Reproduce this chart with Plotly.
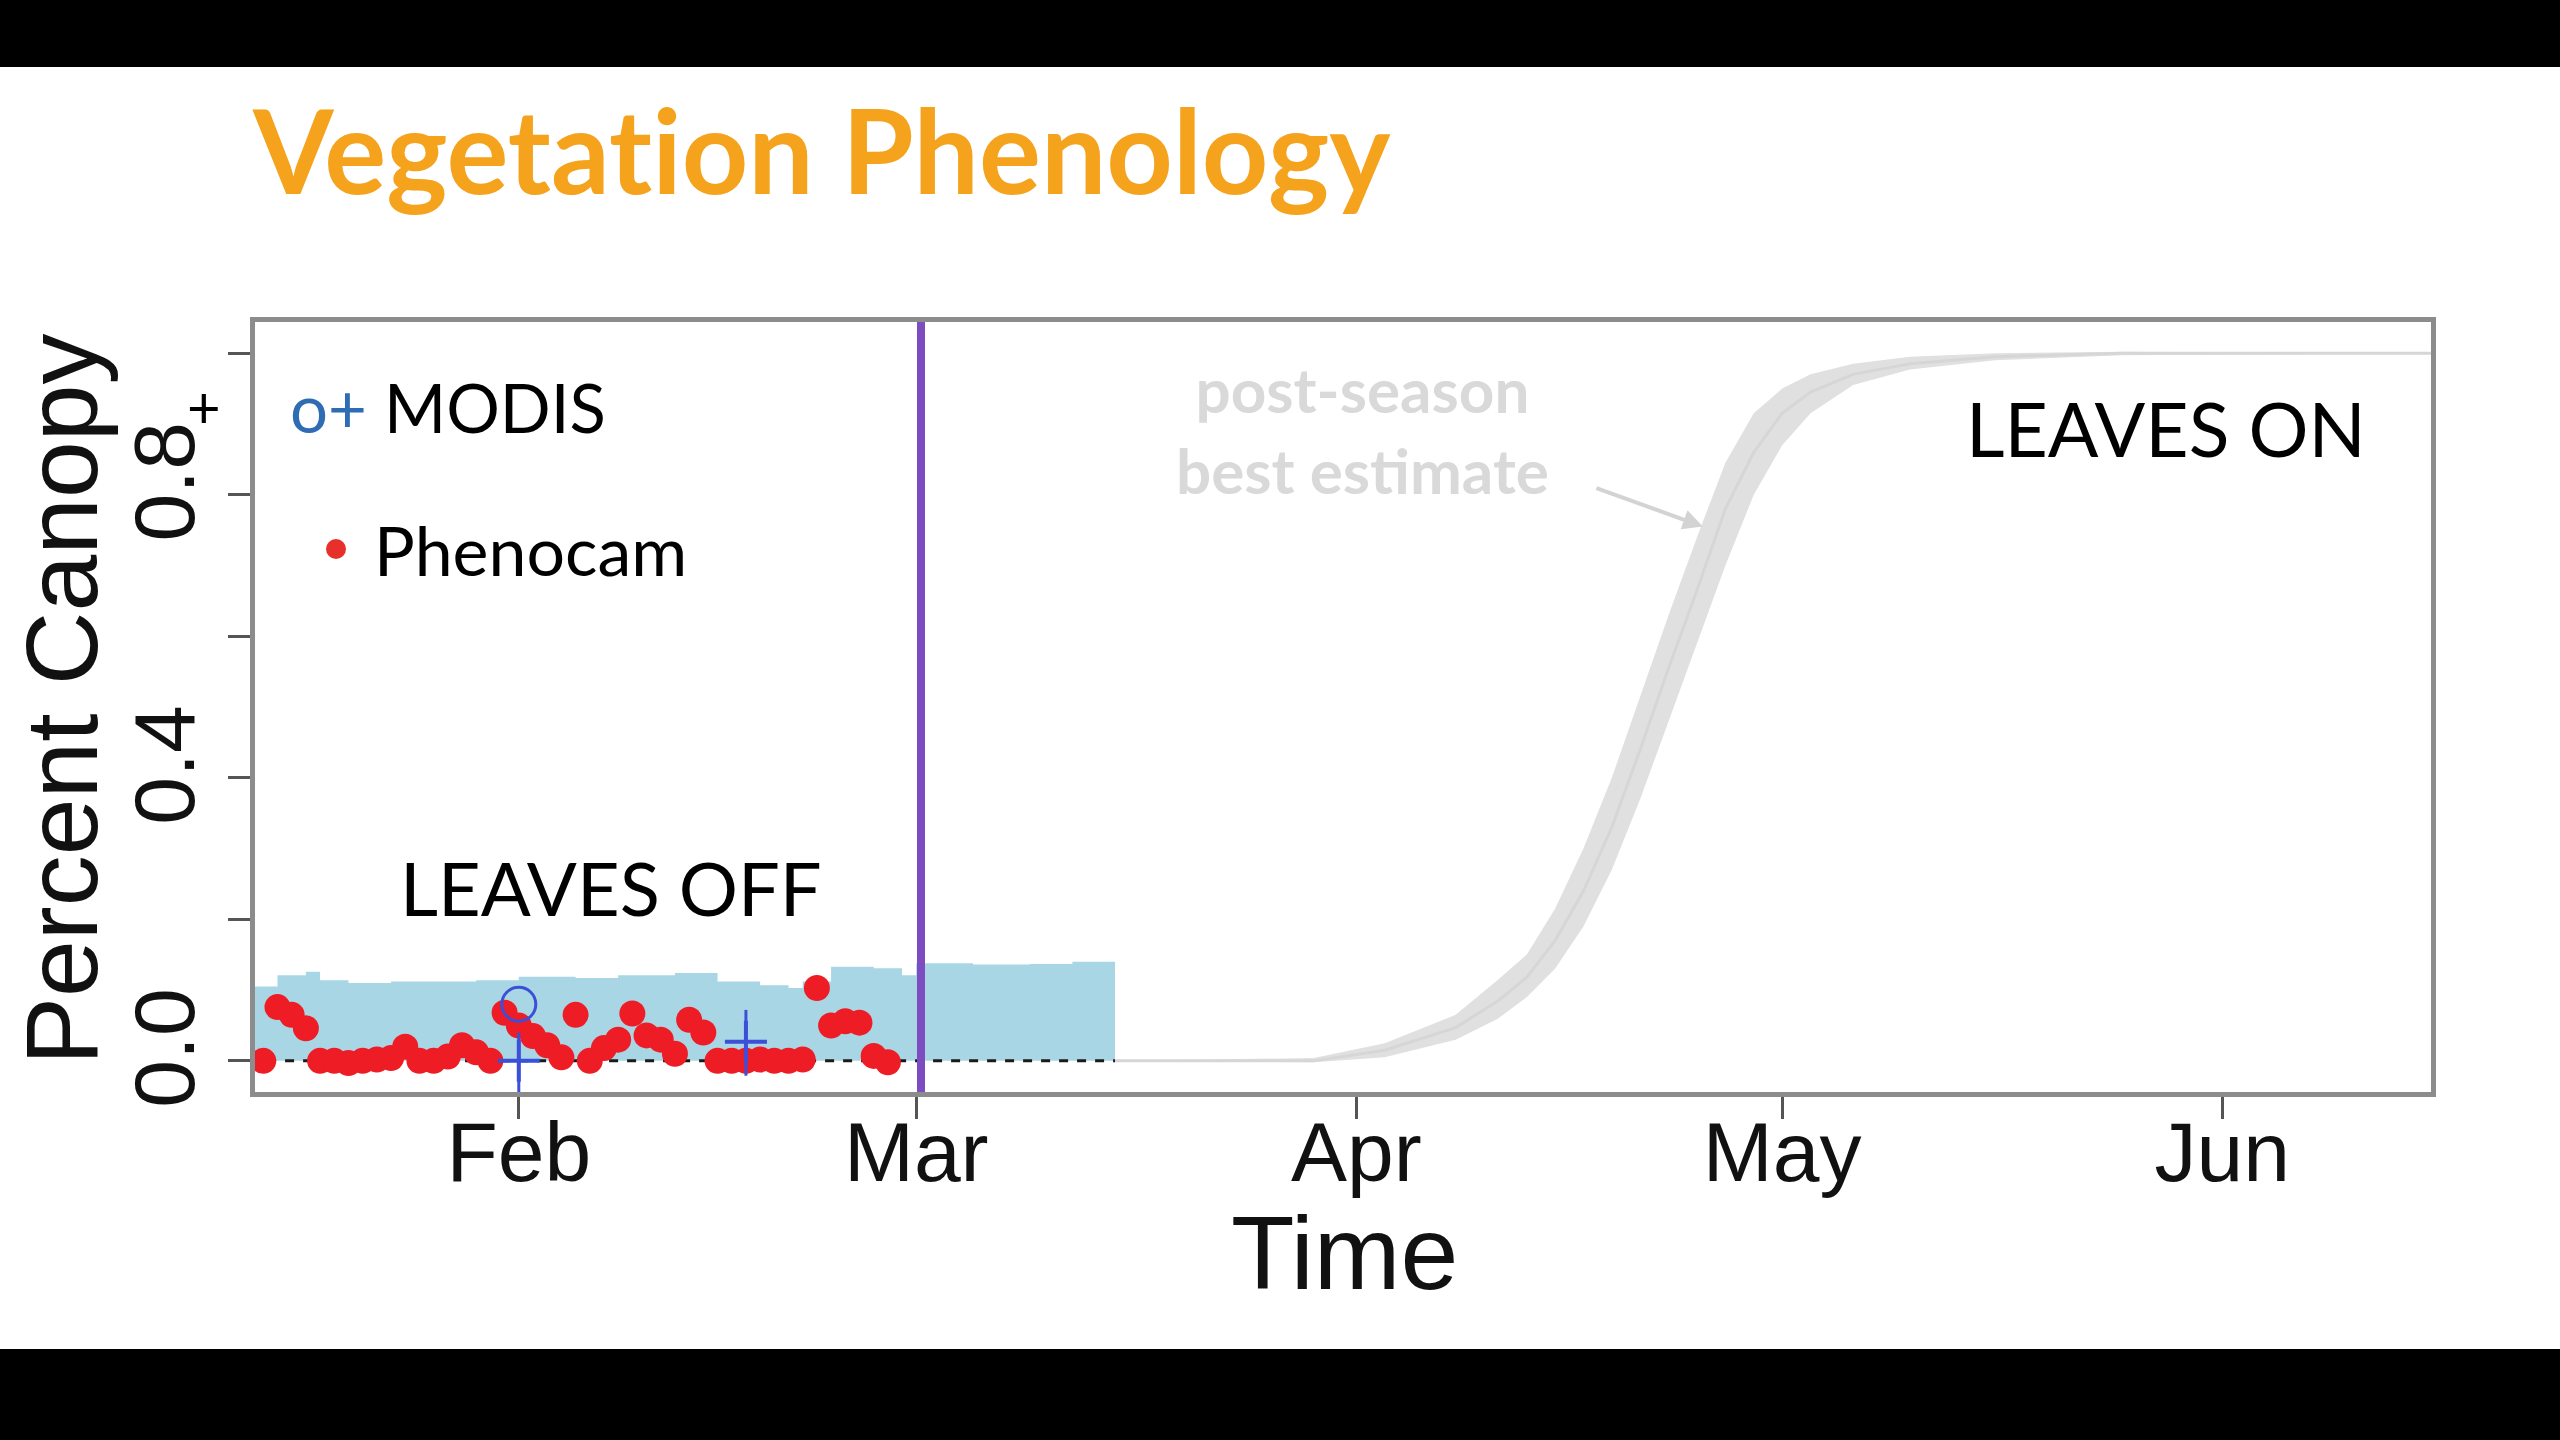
import plotly.graph_objects as go

# --- data (year is arbitrary, non-leap) ---
pheno_dates = [
    "2015-01-14", "2015-01-15", "2015-01-16", "2015-01-17", "2015-01-18", "2015-01-19",
    "2015-01-20", "2015-01-21", "2015-01-22", "2015-01-23", "2015-01-24", "2015-01-25",
    "2015-01-26", "2015-01-27", "2015-01-28", "2015-01-29", "2015-01-30", "2015-01-31",
    "2015-02-01", "2015-02-02", "2015-02-03", "2015-02-04", "2015-02-05", "2015-02-06",
    "2015-02-07", "2015-02-08", "2015-02-09", "2015-02-10", "2015-02-11", "2015-02-12",
    "2015-02-13", "2015-02-14", "2015-02-15", "2015-02-16", "2015-02-17", "2015-02-18",
    "2015-02-19", "2015-02-20", "2015-02-21", "2015-02-22", "2015-02-23", "2015-02-24",
    "2015-02-25", "2015-02-26", "2015-02-27",
]
pheno_vals = [
    0.0, 0.076, 0.065, 0.046, 0.0, 0.0,
    -0.003, 0.0, 0.002, 0.004, 0.02, 0.0,
    0.0, 0.006, 0.022, 0.012, 0.0, 0.068,
    0.05, 0.035, 0.022, 0.005, 0.065, 0.0,
    0.018, 0.03, 0.067, 0.036, 0.03, 0.01,
    0.058, 0.04, 0.0, 0.0, 0.0, 0.002,
    0.0, 0.0, 0.002, 0.103, 0.05, 0.056,
    0.054, 0.007, -0.002,
]

# forecast interval (light blue)
fc_dates = [
    "2015-01-13", "2015-01-15", "2015-01-17", "2015-01-18", "2015-01-20", "2015-01-23",
    "2015-01-26", "2015-01-29", "2015-02-01", "2015-02-05", "2015-02-08", "2015-02-12",
    "2015-02-15", "2015-02-18", "2015-02-20", "2015-02-21", "2015-02-23", "2015-02-26",
    "2015-02-28", "2015-03-01", "2015-03-05", "2015-03-09", "2015-03-12", "2015-03-15",
]
fc_hi = [
    0.105, 0.121, 0.126, 0.114, 0.110, 0.112,
    0.112, 0.114, 0.119, 0.117, 0.121, 0.124,
    0.112, 0.107, 0.103, 0.112, 0.133, 0.131,
    0.121, 0.138, 0.136, 0.137, 0.140, 0.142,
]
fc_lo = [0.0] * len(fc_dates)
fc_mid = [0.0] * len(fc_dates)

# MODIS
modis_dates = ["2015-02-01", "2015-02-17"]
modis_vals = [0.0, 0.027]
modis_err_up = [0.04, 0.045]
modis_err_dn = [0.045, 0.048]
modis_circle_date = ["2015-02-01"]
modis_circle_val = [0.08]

# post-season best estimate (grey)
est_dates = [
    "2015-03-15", "2015-03-29", "2015-04-03", "2015-04-08", "2015-04-11", "2015-04-13",
    "2015-04-15", "2015-04-17", "2015-04-19", "2015-04-21", "2015-04-23", "2015-04-25",
    "2015-04-27", "2015-04-29", "2015-05-01", "2015-05-03", "2015-05-06", "2015-05-10",
    "2015-05-16", "2015-05-25", "2015-06-16",
]
est_mid = [
    0.0, 0.0, 0.015, 0.047, 0.085, 0.118,
    0.17, 0.24, 0.33, 0.44, 0.555, 0.665,
    0.78, 0.86, 0.915, 0.945, 0.97, 0.985,
    0.995, 1.0, 1.0,
]
est_lo = [
    0.0, -0.002, 0.005, 0.03, 0.06, 0.09,
    0.13, 0.19, 0.27, 0.37, 0.48, 0.59,
    0.70, 0.80, 0.87, 0.915, 0.955, 0.977,
    0.99, 0.997, 1.0,
]
est_hi = [
    0.0, 0.004, 0.025, 0.065, 0.115, 0.15,
    0.215, 0.30, 0.40, 0.515, 0.63, 0.74,
    0.845, 0.915, 0.95, 0.97, 0.985, 0.995,
    1.0, 1.002, 1.0,
]

forecast_date = "2015-03-01 08:00"

month_ticks = ["2015-02-01", "2015-03-01", "2015-04-01", "2015-05-01", "2015-06-01"]
month_labels = ["Feb", "Mar", "Apr", "May", "Jun"]
y_ticks = [0.0, 0.2, 0.4, 0.6, 0.8, 1.0]
y_labels = ["0.0", "", "0.4", "", "0.8", ""]

# --- page geometry (pixels) ---
W, H = 2560, 1440
L, R, T, B = 255, 2431, 322, 1092


def px(x):
    return (x - L) / (R - L)


def py(y):
    return (B - y) / (B - T)


fig = go.Figure()

fig.add_trace(go.Scatter(x=fc_dates, y=fc_lo, mode="lines", line=dict(width=0, shape="hv"),
                         showlegend=False, hoverinfo="skip"))
fig.add_trace(go.Scatter(x=fc_dates, y=fc_hi, mode="lines", line=dict(width=0, shape="hv"),
                         fill="tonexty", fillcolor="#a9d6e5", showlegend=False))
fig.add_trace(go.Scatter(x=fc_dates, y=fc_mid, mode="lines",
                         line=dict(color="#1a1a1a", width=3, dash="dash"), showlegend=False))

fig.add_trace(go.Scatter(x=est_dates, y=est_lo, mode="lines", line=dict(width=0),
                         showlegend=False, hoverinfo="skip"))
fig.add_trace(go.Scatter(x=est_dates, y=est_hi, mode="lines", line=dict(width=0),
                         fill="tonexty", fillcolor="#e0e0e0", showlegend=False))
fig.add_trace(go.Scatter(x=est_dates, y=est_mid, mode="lines",
                         line=dict(color="#d6d6d6", width=3), showlegend=False))

fig.add_trace(go.Scatter(x=pheno_dates, y=pheno_vals, mode="markers",
                         marker=dict(color="#ee1c24", size=26), name="Phenocam", showlegend=False))

fig.add_trace(go.Scatter(
    x=modis_dates, y=modis_vals, mode="markers",
    marker=dict(symbol="cross-thin", size=30, color="#3b4fd8", line=dict(color="#3b4fd8", width=4)),
    error_y=dict(type="data", symmetric=False, array=modis_err_up, arrayminus=modis_err_dn,
                 color="#3b4fd8", thickness=3, width=0),
    name="MODIS", showlegend=False))
fig.add_trace(go.Scatter(
    x=modis_circle_date, y=modis_circle_val, mode="markers",
    marker=dict(symbol="circle-open", size=34, color="#3b4fd8", line=dict(color="#3b4fd8", width=3)),
    showlegend=False))

shapes = [
    # black bars top and bottom of the slide
    dict(type="rect", xref="paper", yref="paper", x0=px(0), x1=px(W), y0=py(0), y1=py(67),
         fillcolor="black", line_width=0, layer="below"),
    dict(type="rect", xref="paper", yref="paper", x0=px(0), x1=px(W), y0=py(1349), y1=py(H),
         fillcolor="black", line_width=0, layer="below"),
    # forecast start line
    dict(type="line", xref="x", yref="paper", x0=forecast_date, x1=forecast_date, y0=0, y1=1,
         line=dict(color="#7d4cc0", width=8)),
    # legend dot
    dict(type="circle", xref="paper", yref="paper", x0=px(326), x1=px(346), y0=py(539), y1=py(559),
         fillcolor="#e8302a", line_width=0),
]

annotations = [
    dict(text="<b>Vegetat\u200cion Phenology</b>", xref="paper", yref="paper", x=px(250), y=py(150),
         xanchor="left", yanchor="middle", showarrow=False,
         font=dict(family="Lato", size=116, color="#f5a21c")),
    dict(text="<span style='color:#2e6db4'>o+</span> MODIS", xref="paper", yref="paper",
         x=px(288), y=py(407), xanchor="left", yanchor="middle", showarrow=False,
         font=dict(family="Lato", size=67, color="black")),
    dict(text="+", xref="paper", yref="paper", x=px(204), y=py(405), xanchor="center",
         yanchor="middle", showarrow=False, font=dict(family="Lato", size=58, color="black")),
    dict(text="Phenocam", xref="paper", yref="paper", x=px(372), y=py(549), xanchor="left",
         yanchor="middle", showarrow=False, font=dict(family="Lato", size=68, color="black")),
    dict(text="LEAVES OFF", xref="paper", yref="paper", x=px(398), y=py(887), xanchor="left",
         yanchor="middle", showarrow=False, font=dict(family="Lato", size=74, color="black")),
    dict(text="LEAVES ON", xref="paper", yref="paper", x=px(1964), y=py(428), xanchor="left",
         yanchor="middle", showarrow=False, font=dict(family="Lato", size=75, color="black")),
    dict(text="<b>post-season<br>best estimate</b>", xref="paper", yref="paper", x=px(1362),
         y=py(429), xanchor="center", yanchor="middle", showarrow=False,
         font=dict(family="Lato", size=62, color="#d9d9d9")),
    dict(text="", x="2015-04-25 10:00", y=0.755, ax=-108, ay=-39, showarrow=True,
         arrowhead=2, arrowsize=1, arrowwidth=4, arrowcolor="#d3d3d3"),
    dict(text="Percent Canopy", xref="paper", yref="paper", x=px(62), y=py(700),
         textangle=-90, xanchor="center", yanchor="middle", showarrow=False,
         font=dict(family="Liberation Sans", size=102, color="#111111")),
    dict(text="Time", xref="paper", yref="paper", x=px(1344), y=py(1253),
         xanchor="center", yanchor="middle", showarrow=False,
         font=dict(family="Liberation Sans", size=104, color="#111111")),
]

fig.update_layout(
    width=W, height=H,
    margin=dict(l=L, r=W - R, t=T, b=H - B, autoexpand=False),
    paper_bgcolor="white", plot_bgcolor="white",
    showlegend=False,
    shapes=shapes, annotations=annotations,
)
fig.update_xaxes(
    type="date", range=["2015-01-13 10:00", "2015-06-15 17:00"],
    tickvals=month_ticks, ticktext=month_labels,
    showgrid=False, zeroline=False,
    showline=True, mirror=True, linecolor="#8c8c8c", linewidth=5,
    ticks="outside", ticklen=22, tickwidth=3, tickcolor="#555555",
    ticklabelstandoff=-39,
    tickfont=dict(family="Liberation Sans", size=84, color="#111111"),
)
fig.update_yaxes(
    range=[-0.044, 1.044],
    tickvals=y_ticks, ticktext=y_labels, tickangle=-90,
    showgrid=False, zeroline=False,
    showline=True, mirror=True, linecolor="#8c8c8c", linewidth=5,
    ticks="outside", ticklen=22, tickwidth=3, tickcolor="#555555",
    ticklabelstandoff=0,
    tickfont=dict(family="Liberation Sans", size=86, color="#111111"),
)

# page body margin off so the slide fills the window edge to edge
fig.write_html("out.html", config={"displayModeBar": False},
               post_script="document.body.style.margin='0';")
